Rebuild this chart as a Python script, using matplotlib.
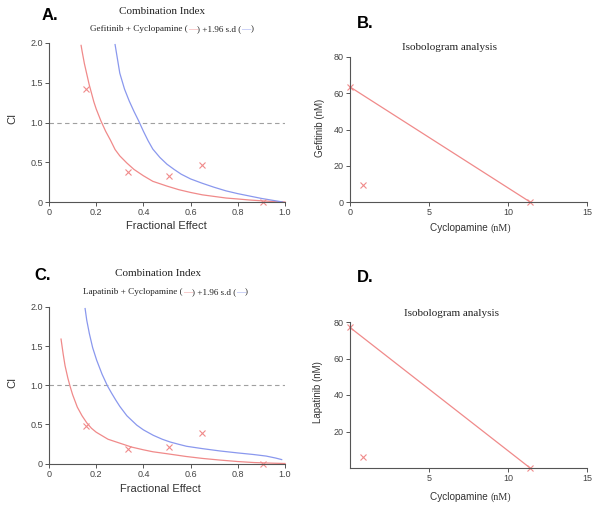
import matplotlib
matplotlib.use("Agg")
import matplotlib.pyplot as plt

RED = "#f08a8a"
BLUE = "#8a98ee"
SANS = "Liberation Sans"
SERIF = "Liberation Serif"

# panel A: Gefitinib + Cyclopamine, CI vs fractional effect
a_red_fa = [0.136, 0.14, 0.15, 0.16, 0.17, 0.18, 0.19, 0.20, 0.22, 0.24, 0.26, 0.28, 0.30, 0.33, 0.36,
            0.40, 0.44, 0.50, 0.55, 0.60, 0.65, 0.70, 0.75, 0.80, 0.85, 0.90, 0.95, 1.0]
a_red_ci = [1.97, 1.90, 1.74, 1.61, 1.48, 1.37, 1.26, 1.17, 1.02, 0.89, 0.78, 0.66, 0.58, 0.49, 0.41,
            0.33, 0.26, 0.20, 0.155, 0.12, 0.09, 0.07, 0.05, 0.038, 0.025, 0.015, 0.006, 0.0]
a_blue_fa = [0.28, 0.29, 0.30, 0.32, 0.34, 0.36, 0.38, 0.40, 0.42, 0.44, 0.47, 0.50, 0.53, 0.56, 0.60,
             0.65, 0.70, 0.75, 0.80, 0.85, 0.90, 0.95, 0.99]
a_blue_ci = [1.98, 1.80, 1.62, 1.42, 1.27, 1.14, 1.02, 0.89, 0.77, 0.665, 0.56, 0.475, 0.41, 0.35, 0.29,
             0.235, 0.185, 0.14, 0.105, 0.075, 0.045, 0.02, 0.0]
a_pts_fa = [0.155, 0.336, 0.508, 0.647, 0.908]
a_pts_ci = [1.42, 0.38, 0.33, 0.46, 0.0]

# panel C: Lapatinib + Cyclopamine
c_red_fa = [0.051, 0.06, 0.068, 0.08, 0.089, 0.10, 0.12, 0.14, 0.16, 0.18, 0.20, 0.25, 0.30, 0.35,
            0.40, 0.44, 0.50, 0.58, 0.65, 0.72, 0.80, 0.87, 0.95, 1.0]
c_red_ci = [1.59, 1.40, 1.25, 1.09, 0.99, 0.88, 0.72, 0.61, 0.52, 0.45, 0.40, 0.31, 0.26, 0.21,
            0.175, 0.15, 0.125, 0.09, 0.065, 0.045, 0.025, 0.012, 0.004, 0.0]
c_blue_fa = [0.153, 0.16, 0.171, 0.185, 0.202, 0.225, 0.248, 0.265, 0.283, 0.30, 0.33, 0.372, 0.40,
             0.442, 0.48, 0.513, 0.55, 0.583, 0.65, 0.725, 0.80, 0.866, 0.92, 0.96, 0.986]
c_blue_ci = [1.98, 1.83, 1.66, 1.48, 1.32, 1.14, 0.99, 0.90, 0.81, 0.73, 0.61, 0.49, 0.43,
             0.36, 0.31, 0.275, 0.245, 0.22, 0.19, 0.16, 0.135, 0.115, 0.095, 0.07, 0.05]
c_pts_fa = [0.155, 0.336, 0.508, 0.647, 0.908]
c_pts_ci = [0.48, 0.19, 0.215, 0.39, 0.0]

# isobolograms (Cyclopamine nM vs Gefitinib / Lapatinib nM)
b_line_x = [0, 11.4]
b_line_y = [63.5, 0]
b_pts_x = [0, 0.8, 11.4]
b_pts_y = [63.5, 9.5, 0]
d_line_x = [0, 11.4]
d_line_y = [77, 0]
d_pts_x = [0, 0.8, 11.4]
d_pts_y = [77, 6, 0]

W, H = 600, 508
fig = plt.figure(figsize=(6, 5.08), dpi=100)


def box(x0, y0, x1, y1):
    # pixel box, origin top-left -> axes rect
    return [x0 / W, 1 - y1 / H, (x1 - x0) / W, (y1 - y0) / H]


def px(x, y):
    return x / W, 1 - y / H


def style(ax):
    for s in ["top", "right"]:
        ax.spines[s].set_visible(False)
    for s in ["left", "bottom"]:
        ax.spines[s].set_color("#555555")
        ax.spines[s].set_linewidth(0.8)
    ax.tick_params(length=3, width=0.7, color="#555555", labelsize=6.5,
                   labelcolor="#444444", pad=1.5)
    for lab in ax.get_xticklabels() + ax.get_yticklabels():
        lab.set_family(SANS)


def chain(ax, x, y, pieces, size):
    # write pieces of text one after the other, each in its own font / colour
    prev = None
    for s, fam, c in pieces:
        if prev is None:
            prev = fig.text(*px(x, y), s, family=fam, fontsize=size, color=c,
                            ha="left", va="center")
        else:
            prev = ax.annotate(s, xy=(1, 0.5), xycoords=prev, ha="left", va="center",
                               family=fam, fontsize=size, color=c, annotation_clip=False)
    return prev


def ci_panel(rect, rf, rc, bf, bc, pf, pc, letter, lxy, drug, title_xy, sub_xy, ylab_xy, xlab_xy):
    ax = fig.add_axes(rect)
    ax.plot([0, 1], [1, 1], color="#a0a0a0", lw=0.8, ls=(0, (4, 3)))
    ax.plot(rf, rc, color=RED, lw=0.9, clip_on=False)
    ax.plot(bf, bc, color=BLUE, lw=0.9, clip_on=False)
    ax.plot(pf, pc, ls="none", marker="x", ms=4.5, mew=0.8, color=RED, clip_on=False)
    ax.set_xlim(0, 1)
    ax.set_ylim(0, 2)
    ax.set_xticks([0, 0.2, 0.4, 0.6, 0.8, 1.0])
    ax.set_xticklabels(["0", "0.2", "0.4", "0.6", "0.8", "1.0"])
    ax.set_yticks([0, 0.5, 1.0, 1.5, 2.0])
    ax.set_yticklabels(["0", "0.5", "1.0", "1.5", "2.0"])
    style(ax)
    fig.text(*px(*xlab_xy), "Fractional Effect", family=SANS, fontsize=8, color="#333333",
             ha="center", va="center")
    fig.text(*px(*ylab_xy), "CI", family=SANS, fontsize=8, color="#333333",
             rotation=90, ha="center", va="center")
    fig.text(*px(*lxy), letter, family=SANS, fontsize=12, fontweight="bold",
             ha="left", va="center")
    fig.text(*px(*title_xy), "Combination Index", family=SERIF, fontsize=8,
             ha="center", va="center", color="#222222")
    k = "#222222"
    chain(ax, sub_xy[0], sub_xy[1],
          [(drug + " + Cyclopamine (", SERIF, k), ("\u2014", SERIF, RED),
           (") +1.96 s.d (", SERIF, k), ("\u2014", SERIF, BLUE), (")", SERIF, k)], 6.6)
    return ax


def iso_panel(rect, lx, ly, ptx, pty, letter, lxy, drug, title_xy, ylab_xy, xlab_xy,
              yticks, xticks):
    ax = fig.add_axes(rect)
    ax.plot(lx, ly, color=RED, lw=0.9, clip_on=False)
    ax.plot(ptx, pty, ls="none", marker="x", ms=4.5, mew=0.8, color=RED, clip_on=False)
    ax.set_xlim(0, 15)
    ax.set_ylim(0, 80)
    ax.set_xticks(xticks)
    ax.set_yticks(yticks)
    style(ax)
    fig.text(*px(*ylab_xy), drug + " (nM)", family=SANS, fontsize=7, color="#333333",
             rotation=90, ha="center", va="center")
    chain(ax, xlab_xy[0], xlab_xy[1],
          [("Cyclopamine ", SANS, "#333333"), ("(nM)", SERIF, "#333333")], 7.2)
    fig.text(*px(*lxy), letter, family=SANS, fontsize=12, fontweight="bold",
             ha="left", va="center")
    fig.text(*px(*title_xy), "Isobologram analysis", family=SERIF, fontsize=8,
             ha="center", va="center", color="#222222")
    return ax


ci_panel(box(49, 43, 285, 202), a_red_fa, a_red_ci, a_blue_fa, a_blue_ci,
         a_pts_fa, a_pts_ci, "A.", (42, 16), "Gefitinib", (162, 11), (90, 29), (12, 118),
         (166, 226))
ci_panel(box(49, 307, 285, 463.5), c_red_fa, c_red_ci, c_blue_fa, c_blue_ci,
         c_pts_fa, c_pts_ci, "C.", (34, 276), "Lapatinib", (158, 274), (83, 292), (12, 382),
         (160, 489))

iso_panel(box(350, 57, 587, 202), b_line_x, b_line_y, b_pts_x, b_pts_y, "B.", (357, 24),
          "Gefitinib", (449, 47), (320, 128), (430, 228), [0, 20, 40, 60, 80], [0, 5, 10, 15])
iso_panel(box(350, 322, 587, 468), d_line_x, d_line_y, d_pts_x, d_pts_y, "D.", (357, 277),
          "Lapatinib", (451, 313), (318, 392), (430, 497), [20, 40, 60, 80], [5, 10, 15])

fig.savefig("out.png", dpi=100)
